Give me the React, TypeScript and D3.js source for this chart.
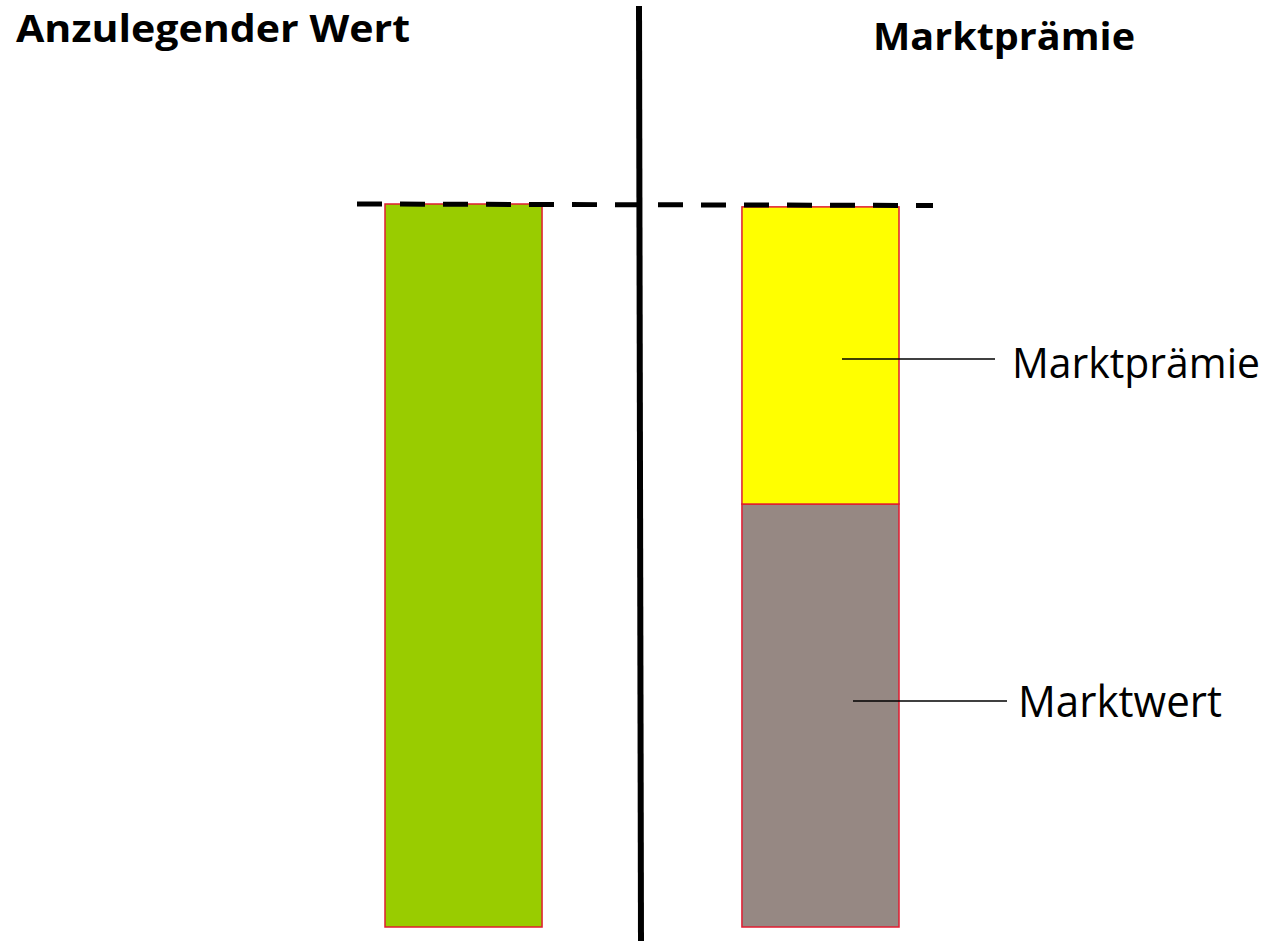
import React from "react";
import * as d3 from "d3";

const categories = ["Anzulegender Wert", "Marktprämie"];
const anzulegenderWert = [100];
const marktwert = [58.5];
const marktpraemie = [41.1];
const referenceLevel = 100;

const W = 1276;
const H = 941;
const FONT = "'Open Sans', 'Noto Sans', sans-serif";

export default function App() {
  const x = d3
    .scaleBand<string>()
    .domain(categories)
    .range([385, 899])
    .paddingInner(0.56)
    .paddingOuter(0);
  const y = d3.scaleLinear().domain([0, 100]).range([927, 204]);

  const stacked = d3
    .stack<any>()
    .keys(["marktwert", "marktpraemie"])([
    { marktwert: marktwert[0], marktpraemie: marktpraemie[0] },
  ]);
  const stackColors: Record<string, string> = {
    marktwert: "#968883",
    marktpraemie: "#ffff00",
  };

  const bw = x.bandwidth();
  const x0 = x(categories[0])!;
  const x1 = x(categories[1])!;
  const stroke = "#e01c30";

  return (
    <svg
      width={W}
      height={H}
      style={{ position: "absolute", left: 0, top: 0, background: "#fff" }}
    >
      {/* Left bar */}
      <rect
        x={x0}
        y={y(anzulegenderWert[0])}
        width={bw}
        height={y(0) - y(anzulegenderWert[0])}
        fill="#99cc00"
        stroke={stroke}
        strokeWidth={1.5}
      />
      {/* Right stacked bar */}
      {stacked.map((s) => (
        <rect
          key={s.key}
          x={x1}
          y={y(s[0][1])}
          width={bw}
          height={y(s[0][0]) - y(s[0][1])}
          fill={stackColors[s.key]}
          stroke={stroke}
          strokeWidth={1.5}
        />
      ))}
      {/* Dashed reference line */}
      <line
        x1={357}
        x2={933}
        y1={y(referenceLevel)}
        y2={y(referenceLevel) + 1.5}
        stroke="#000"
        strokeWidth={5}
        strokeDasharray="25 18"
      />
      {/* Vertical separator */}
      <line x1={639} y1={6} x2={641} y2={H} stroke="#000" strokeWidth={6} />

      {/* Titles */}
      <text
        x={16}
        y={42}
        fontFamily={FONT}
        fontWeight={700}
        fontSize={38}
        textLength={394}
        lengthAdjust="spacingAndGlyphs"
        fill="#000"
      >
        {categories[0]}
      </text>
      <text
        x={873}
        y={50}
        fontFamily={FONT}
        fontWeight={700}
        fontSize={38}
        textLength={262}
        lengthAdjust="spacingAndGlyphs"
        fill="#000"
      >
        {categories[1]}
      </text>

      {/* Leader lines and labels */}
      <line x1={842} x2={995} y1={359} y2={359} stroke="#000" strokeWidth={1.5} />
      <text
        x={1012}
        y={378}
        fontFamily={FONT}
        fontSize={42}
        textLength={248}
        lengthAdjust="spacingAndGlyphs"
        fill="#000"
      >
        Marktprämie
      </text>
      <line x1={853} x2={1007} y1={701} y2={701} stroke="#000" strokeWidth={1.5} />
      <text
        x={1018}
        y={717}
        fontFamily={FONT}
        fontSize={43}
        textLength={204}
        lengthAdjust="spacingAndGlyphs"
        fill="#000"
      >
        Marktwert
      </text>
    </svg>
  );
}
